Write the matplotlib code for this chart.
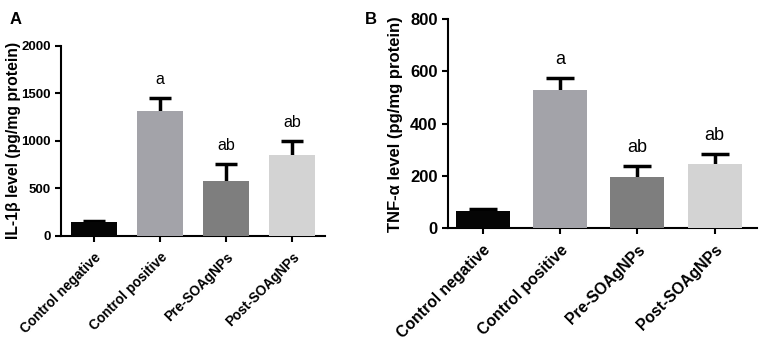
import matplotlib
matplotlib.use("Agg")
import matplotlib.pyplot as plt

plt.rcParams['font.family'] = ['Liberation Sans', 'DejaVu Sans']

categories = ["Control negative", "Control positive", "Pre-SOAgNPs", "Post-SOAgNPs"]
il1b = [145, 1310, 582, 848]
il1b_err = [15, 140, 170, 148]
tnf = [65, 528, 195, 246]
tnf_err = [8, 47, 42, 40]
letters = ["", "a", "ab", "ab"]
colors = ["#050505", "#a3a3a9", "#7e7e7e", "#d3d3d3"]

fig = plt.figure(figsize=(7.65, 3.45), dpi=100)
axA = fig.add_axes([0.0797, 0.316, 0.345, 0.552])
axB = fig.add_axes([0.5856, 0.338, 0.404, 0.607])

def panel(ax, vals, errs, ylim, yticks, ylabel, xlim, fs_tick, fs_x, fs_lab, fs_let, cap, pad):
    x = list(range(len(vals)))
    ax.bar(x, vals, width=0.7, color=colors, zorder=3)
    ax.errorbar(x, vals, yerr=errs, fmt='none', ecolor='black',
                elinewidth=2.5, capsize=cap, capthick=2.5, zorder=2)
    for xi, v, e, l in zip(x, vals, errs, letters):
        if l:
            ax.annotate(l, (xi, v + e), xytext=(0, 10), textcoords='offset points',
                        ha='center', va='baseline', fontsize=fs_let)
    ax.set_xlim(*xlim)
    ax.set_ylim(*ylim)
    ax.set_yticks(yticks)
    ax.set_xticks(x)
    ax.set_xticklabels(categories, rotation=45, ha='right', rotation_mode='anchor',
                       fontweight='bold', fontsize=fs_x)
    for t in ax.get_yticklabels():
        t.set_fontweight('bold')
        t.set_fontsize(fs_tick)
    ax.set_ylabel(ylabel, fontweight='bold', fontsize=fs_lab, labelpad=pad)
    for s in ['top', 'right']:
        ax.spines[s].set_visible(False)
    for s in ['left', 'bottom']:
        ax.spines[s].set_linewidth(1.5)
    ax.tick_params(width=1.5, length=4)
    ax.tick_params(axis='x', pad=6)

panel(axA, il1b, il1b_err, (0, 2000), [0, 500, 1000, 1500, 2000],
      "IL-1β level (pg/mg protein)", (-0.5, 3.5), 9.5, 9.8, 11.3, 11.5, 8, 0)
panel(axB, tnf, tnf_err, (0, 800), [0, 200, 400, 600, 800],
      "TNF-α level (pg/mg protein)", (-0.45, 3.55), 12, 11.3, 12, 13, 10, 5)

fig.text(0.012, 0.965, "A", fontweight='bold', fontsize=12, va='top')
fig.text(0.477, 0.965, "B", fontweight='bold', fontsize=12, va='top')

fig.savefig("out.png", dpi=100)
